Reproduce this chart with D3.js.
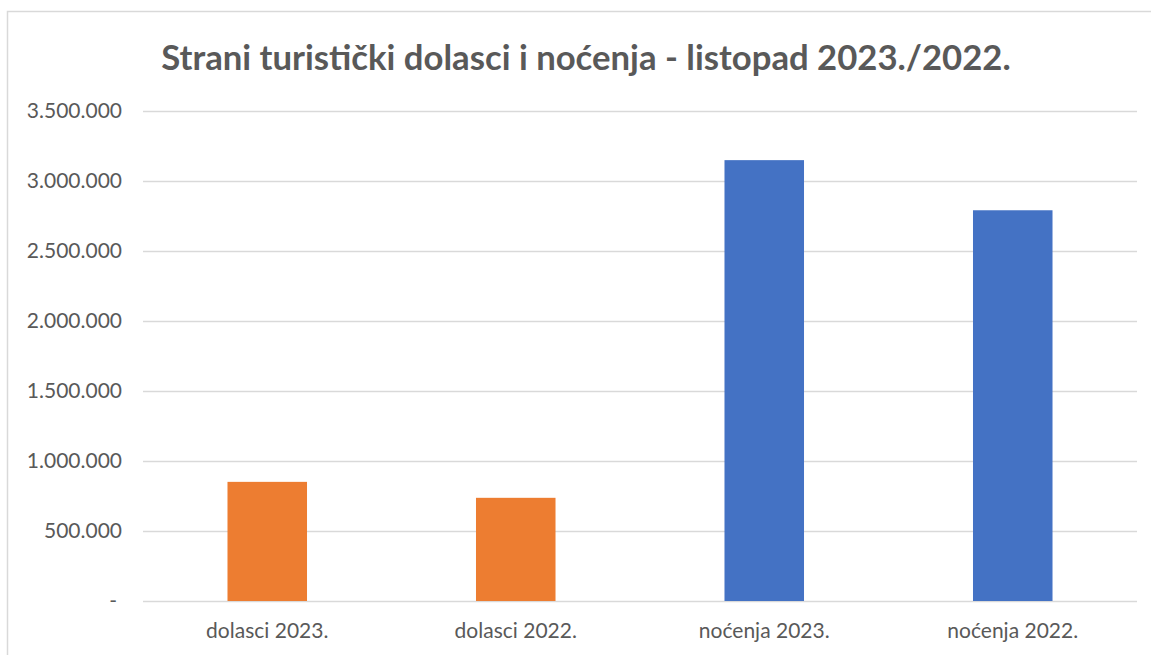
<!DOCTYPE html>
<html>
<head>
<meta charset="utf-8">
<script src="https://cdn.jsdelivr.net/npm/d3@7"></script>
<style>
  html, body { margin: 0; padding: 0; background: #fff; }
  svg { display: block; }
  text { font-family: Lato, "Open Sans", sans-serif; fill: #595959; }
</style>
</head>
<body>
<div class="chart"></div>
<script>
// data
var categories = ['dolasci 2023.', 'dolasci 2022.', 'noćenja 2023.', 'noćenja 2022.'];
var values     = [851000, 737000, 3149000, 2791000];
var barColors  = ['#ED7D31', '#ED7D31', '#4472C4', '#4472C4'];
var yTicks     = [0, 500000, 1000000, 1500000, 2000000, 2500000, 3000000, 3500000];
var title      = 'Strani turistički dolasci i noćenja - listopad 2023./2022.';

var W = 1151, H = 655;

// plot area in page pixels
var plot = { left: 143, right: 1137, top: 111, bottom: 601 };

var svg = d3.select('.chart').append('svg')
    .attr('width', W)
    .attr('height', H);

// chart frame (only top and left edges show in the crop)
svg.append('path')
    .attr('d', `M7.5,${H} V11.5 H${W}`)
    .attr('fill', 'none')
    .attr('stroke', '#d9d9d9')
    .attr('stroke-width', 1.5);

var x = d3.scaleBand()
    .domain(categories)
    .range([plot.left, plot.right])
    .paddingInner(0.68)
    .paddingOuter(0.34);

var y = d3.scaleLinear()
    .domain([0, 3500000])
    .range([plot.bottom, plot.top]);

// dot as thousands separator, dash for zero
function fmt(v){
    if(v === 0) return '-';
    return d3.format(',')(v).replace(/,/g, '.');
}

// gridlines
svg.append('g')
    .selectAll('line')
    .data(yTicks)
    .enter().append('line')
    .attr('x1', plot.left)
    .attr('x2', plot.right)
    .attr('y1', (d) => { return Math.round(y(d)) + 0.5; })
    .attr('y2', (d) => { return Math.round(y(d)) + 0.5; })
    .attr('stroke', '#d9d9d9')
    .attr('stroke-width', 1.5);

// y axis labels
var yAxis = svg.append('g')
    .attr('transform', `translate(${plot.left - 21}, 0)`)
    .call(d3.axisLeft(y).tickValues(yTicks).tickFormat(fmt).tickSize(0).tickPadding(0));
yAxis.select('.domain').remove();
yAxis.selectAll('text')
    .attr('fill', '#595959')
    .style('font-family', 'Lato, "Open Sans", sans-serif')
    .style('font-size', '21px');
// the zero dash sits a bit further left
yAxis.selectAll('text')
    .filter((d) => { return d === 0; })
    .attr('x', -5);

// bars
svg.selectAll('.bar')
    .data(categories)
    .enter().append('rect')
    .attr('class', 'bar')
    .attr('x', (d) => { return x(d); })
    .attr('width', x.bandwidth())
    .attr('y', (d, i) => { return y(values[i]); })
    .attr('height', (d, i) => { return plot.bottom - y(values[i]); })
    .attr('fill', (d, i) => { return barColors[i]; });

// x axis labels
var xAxis = svg.append('g')
    .attr('transform', `translate(0, ${plot.bottom + 22})`)
    .call(d3.axisBottom(x).tickSize(0).tickPadding(0));
xAxis.select('.domain').remove();
xAxis.selectAll('text')
    .attr('fill', '#595959')
    .attr('dy', '0.71em')
    .style('font-family', 'Lato, "Open Sans", sans-serif')
    .style('font-size', '21px');

// title
svg.append('text')
    .attr('x', 586)
    .attr('y', 70)
    .attr('text-anchor', 'middle')
    .style('font-size', '34.7px')
    .style('font-weight', 'bold')
    .text(title);
</script>
</body>
</html>
